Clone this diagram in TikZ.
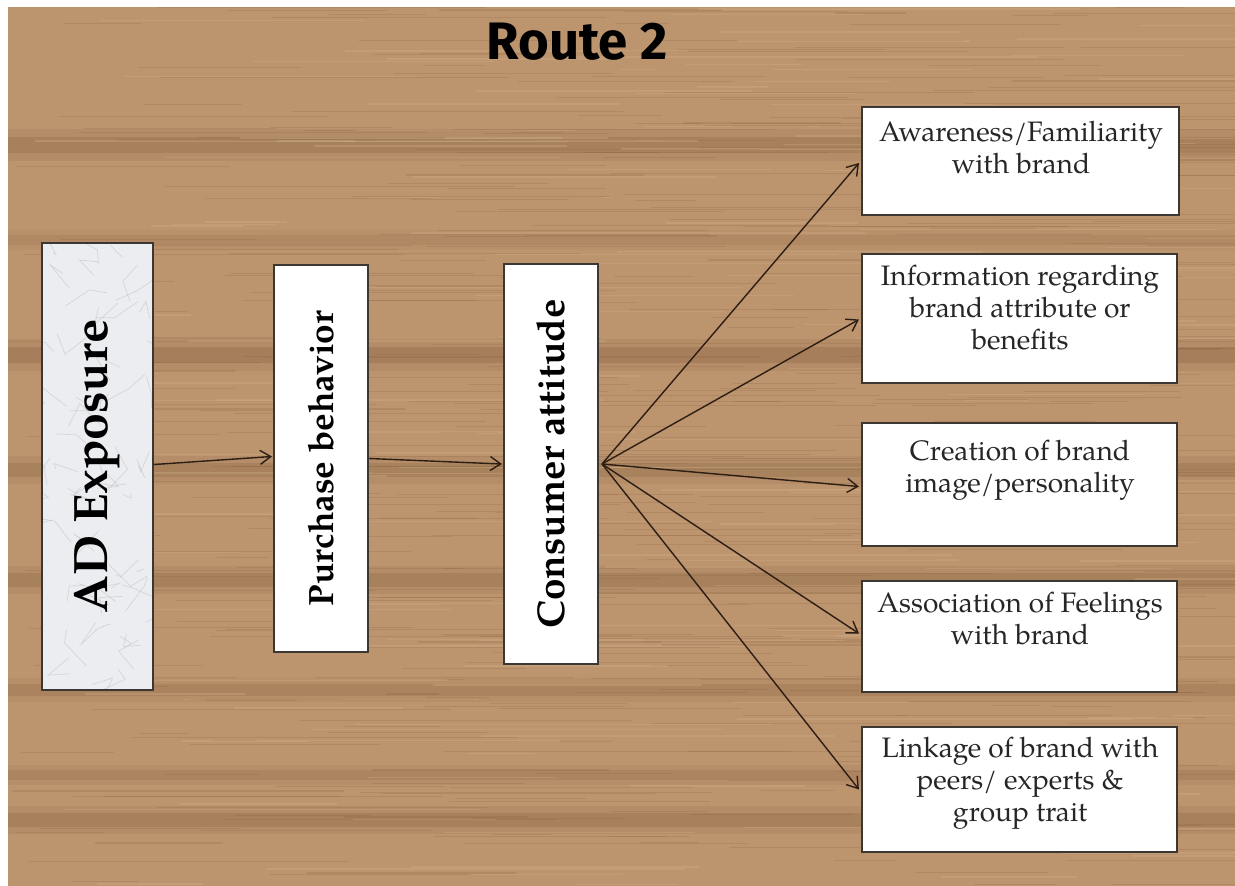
\documentclass[tikz,border=0pt]{standalone}
\usepackage{fontspec}
\setmainfont{TeX Gyre Pagella}
\newfontfamily\titlefont{Fira Sans}
\usetikzlibrary{arrows.meta,calc}
\definecolor{wood}{RGB}{188,148,110}
\definecolor{woodDark}{RGB}{128,90,58}
\definecolor{woodLight}{RGB}{208,174,136}
\definecolor{arrowc}{RGB}{45,30,20}
\definecolor{boxline}{RGB}{60,55,50}
\definecolor{marble}{RGB}{236,237,241}
\tikzset{
  wbox/.style={draw=boxline, line width=1.2pt, fill=white, inner sep=0pt},
  rbox/.style={draw=boxline, line width=1.2pt, rotate=90, inner sep=0pt, font=\bfseries},
  arr/.style={draw=arrowc, line width=0.8pt, -{Straight Barb[length=6pt,width=8pt]}},
  txt/.style={align=center, font=\fontsize{16}{18}\selectfont, inner sep=0pt, anchor=north, text=black!85},
}
\begin{document}
\begin{tikzpicture}[x=0.02cm,y=-0.02cm]
\useasboundingbox (0,0) rectangle (1235,886);
\fill[white] (0,0) rectangle (1235,886);
% wood background
\fill[wood] (8,7) rectangle (1235,886);
\foreach \y/\h/\o in {145/16/0.24, 240/10/0.12, 355/16/0.26, 470/14/0.22, 580/14/0.24, 690/12/0.2, 775/10/0.18, 820/14/0.24}{
  \fill[woodDark, opacity=\o] (8,\y-\h/2) rectangle (1235,\y+\h/2);
  \fill[woodDark, opacity=\o/2] (8,\y-\h) rectangle (1235,\y+\h);
}
\pgfmathsetseed{7}
\foreach \i in {1,...,420}{
  \pgfmathsetmacro\yy{7+rnd*879}
  \pgfmathsetmacro\xa{8+rnd*1150}
  \pgfmathsetmacro\xb{min(\xa+40+rnd*350,1235)}
  \draw[woodDark, opacity=0.2, line width=0.6pt] (\xa,\yy) -- (\xb,\yy);
}
\foreach \i in {1,...,160}{
  \pgfmathsetmacro\yy{7+rnd*879}
  \pgfmathsetmacro\xa{8+rnd*1150}
  \pgfmathsetmacro\xb{min(\xa+60+rnd*400,1235)}
  \draw[woodLight, opacity=0.35, line width=0.8pt] (\xa,\yy) -- (\xb,\yy);
}
% marble fill for AD Exposure
\begin{scope}
  \clip (42,243) rectangle (153,690);
  \fill[marble] (42,243) rectangle (153,690);
  \pgfmathsetseed{3}
  \foreach \i in {1,...,70}{
    \pgfmathsetmacro\xa{30+rnd*140}
    \pgfmathsetmacro\ya{235+rnd*470}
    \draw[gray!55, opacity=0.45, line width=0.4pt] (\xa,\ya) -- ++({rnd*50-25},{rnd*50-25}) -- ++({rnd*50-25},{rnd*50-25});
  }
\end{scope}

% title
\node[font=\titlefont\bfseries\fontsize{30}{34}\selectfont] (title) at (577,42) {Route 2};

% vertical boxes
\node[rbox, minimum width=8.94cm, minimum height=2.22cm, font=\bfseries\fontsize{27.5}{30}\selectfont] (ad) at (97.5,466.5) {AD Exposure};
\node[rbox, fill=white, minimum width=7.74cm, minimum height=1.88cm, font=\bfseries\fontsize{20}{22}\selectfont] (pb) at (321,458.5) {Purchase behavior};
\node[rbox, fill=white, minimum width=8.0cm, minimum height=1.88cm, font=\bfseries\fontsize{22}{24}\selectfont] (ca) at (551,464) {Consumer attitude};

% right boxes
\node[wbox, minimum width=6.34cm, minimum height=2.16cm] (b1) at (1020.5,161) {};
\node[wbox, minimum width=6.30cm, minimum height=2.58cm] (b2) at (1019.5,318.5) {};
\node[wbox, minimum width=6.30cm, minimum height=2.46cm] (b3) at (1019.5,484.5) {};
\node[wbox, minimum width=6.30cm, minimum height=2.22cm] (b4) at (1019.5,636.5) {};
\node[wbox, minimum width=6.30cm, minimum height=2.50cm] (b5) at (1019.5,789.5) {};

\node[txt] (t1) at (1021,121) {Awareness/Familiarity\\with brand};
\node[txt] (t2) at (1020,265) {Information regarding\\brand attribute or\\benefits};
\node[txt] (t3) at (1020,440) {Creation of brand\\image/personality};
\node[txt] (t4) at (1020,592) {Association of Feelings\\with brand};
\node[txt] (t5) at (1020,737) {Linkage of brand with\\peers/ experts \&\\group trait};

% connectors
\draw[arr] ($(ad.south)+(0,-2)$) -- ($(pb.north)+(-1,-2)$);
\draw[arr] (pb.south) -- ($(ca.north)+(-1,0)$);
\draw[arr] ($(ca.south)+(3,0)$) -- ($(b1.west)+(-2,2)$);
\draw[arr] ($(ca.south)+(3,0)$) -- ($(b2.west)+(-2,1)$);
\draw[arr] ($(ca.south)+(3,0)$) -- ($(b3.west)+(-2,2)$);
\draw[arr] ($(ca.south)+(3,0)$) -- ($(b4.west)+(-2,-3)$);
\draw[arr] ($(ca.south)+(3,0)$) -- ($(b5.west)+(-2,0)$);
\end{tikzpicture}
\end{document}
